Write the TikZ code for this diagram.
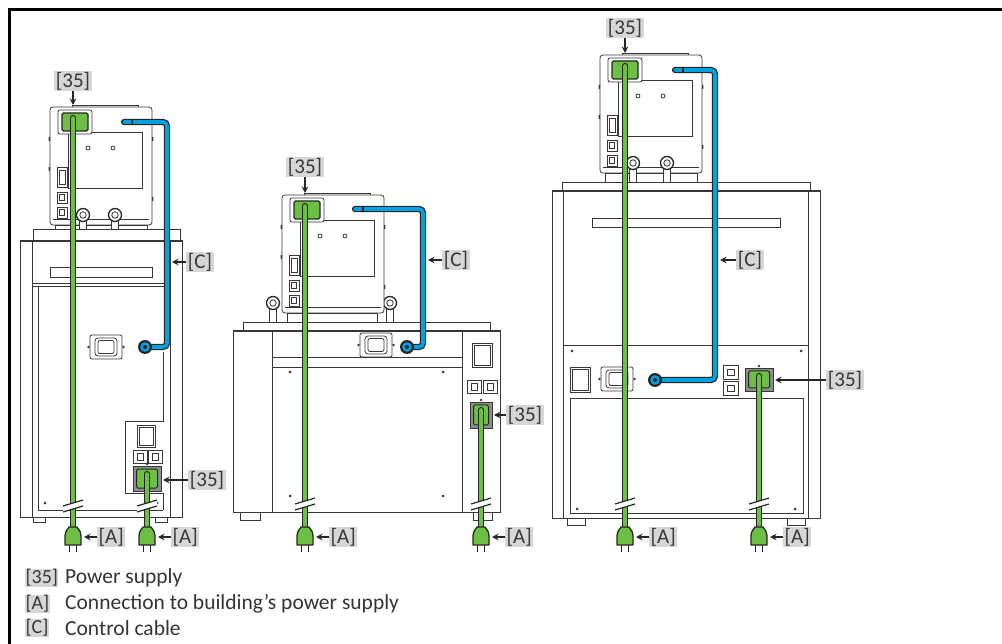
\documentclass[tikz,border=0pt]{standalone}
\usepackage{fontspec}
\setmainfont{Carlito}
\usetikzlibrary{arrows.meta}

\definecolor{leaf}{RGB}{108,190,69}
\definecolor{sky}{RGB}{0,160,226}
\definecolor{ink}{RGB}{55,55,55}

\tikzset{
  outline/.style={draw=ink, line width=0.8pt},
  tag/.style={fill=black!16, text=black!78, inner xsep=1.5pt, inner ysep=0.8pt, font=\fontsize{21}{21}\selectfont},
  keytag/.style={tag, inner xsep=0.3pt, font=\fontsize{20}{20}\selectfont},
  legend/.style={text=black!80, inner sep=0pt, font=\fontsize{21.5}{21.5}\selectfont},
  pointer/.style={-{Stealth[length=6.5pt,width=6.5pt]}, line width=1.2pt, draw=black!85},
  greencable/.style={draw=black!85, line width=1.3pt, double=leaf, double distance=3.6pt, line cap=round},
  bluecable/.style={draw=black!85, line width=1.3pt, double=sky, double distance=3.6pt, line cap=round, rounded corners=4pt},
  pics/headunit/.style={code={
    \draw[outline] (22,0) -- (22,-1.5) -- (88,-1.5) -- (88,0);
    \draw[outline, fill=white, rounded corners=3pt] (0,0) rectangle (102,118);
    \draw[outline] (3,112) -- (99,112);
    \draw[outline] (18,25) rectangle (92,81);
    \draw[outline, fill=white, rounded corners=2pt] (8,3) rectangle (42,27);
    \draw[line width=1.1pt, draw=black!85, fill=leaf, rounded corners=1.5pt] (12,6) rectangle (38,24);
    \draw[outline] (38,41) circle (2) (63,41) circle (2);
    \draw[outline] (7,60) rectangle (17,80) (9,63) rectangle (15,77);
    \draw[outline] (7,85) rectangle (17,96) (7,100) rectangle (17,111);
    \draw[outline] (9.5,87.5) rectangle (14.5,93.5) (9.5,102.5) rectangle (14.5,108.5);
    \fill[ink] (0,30) rectangle (-1.4,34) (0,60) rectangle (-1.4,64) (102,30) rectangle (103.4,34) (102,90) rectangle (103.4,94);
  }},
  pics/nut/.style={code={
    \draw[outline, fill=white] (-3.5,0) rectangle (3.5,#1);
    \draw[line width=1.3pt, draw=black!85, fill=white] (0,0) circle (6.5);
    \draw[outline] (0,0) circle (3.2);
  }},
  pics/inlet/.style={code={
    \fill[ink] (-1.5,12) circle (1.4) (33.5,12) circle (1.4);
    \draw[outline, fill=white, rounded corners=2pt] (0,0) rectangle (32,24);
    \draw[outline, rounded corners=3pt] (5,3) rectangle (27,21);
    \draw[outline, rounded corners=2pt] (8,5.5) rectangle (24,18.5);
  }},
  pics/mains/.style n args={2}{code={
    \fill[ink] (#1/2,-2) circle (1.4);
    \draw[outline, fill=black!45] (0,0) rectangle (#1,#2);
    \draw[line width=1pt, draw=black!85, fill=leaf, rounded corners=1.5pt] (3.5,3) rectangle (#1-3.5,#2-3);
  }},
  pics/plug/.style={code={
    \draw[line width=1.6pt, draw=black!85] (-3.5,17) -- (-3.5,25) (3.5,17) -- (3.5,25);
    \draw[draw=black!85, line width=1.3pt, fill=leaf, line join=round] (-8,18) -- (-8,9)
      .. controls (-8,4) and (-5,2) .. (-4,0) -- (4,0) .. controls (5,2) and (8,4) .. (8,9) -- (8,18) -- cycle;
  }},
  pics/cut/.style={code={
    \fill[white] (-10,1) -- (10,-5) -- (10,1) -- (-10,7) -- cycle;
    \draw[black!85, line width=1.2pt] (-10,1) -- (10,-5) (-10,7) -- (10,1);
  }},
  pics/ring/.style={code={
    \fill[black!85] (0,0) circle (7);
    \fill[sky] (0,0) circle (4.8);
    \fill[black!85] (0,0) circle (2);
  }},
}

\begin{document}
\begin{tikzpicture}[x=1pt, y=-1pt]
  \useasboundingbox (0,0) rectangle (1002,644);
  \draw[line width=3pt] (9.5,644) -- (9.5,9.5) -- (1002,9.5);

  % left unit
  \draw[outline] (20,240) rectangle (182,517);
  \draw[line width=1.5pt, ink] (20,241) -- (182,241);
  \draw[outline] (32,241) -- (32,517) (170,241) -- (170,517);
  \draw[outline] (50,267) rectangle (152,277);
  \draw[outline] (32,283) -- (170,283) (32,286) -- (170,286);
  \draw[outline] (38,286) -- (38,510) -- (163,510) (163,352) -- (163,421) -- (125,421) -- (125,493) -- (163,493) -- (163,510);
  \draw[outline] (33,517) rectangle (45,522) (155,517) rectangle (167,522);
  \fill[ink] (45,503) circle (1.5) (157,503) circle (1.5);
  \draw[outline] (137,425) rectangle (155,447) (139,427) rectangle (153,445);
  \draw[outline] (133,450) rectangle (147,463) (148,450) rectangle (162,463);
  \draw[outline] (137,453) rectangle (143,460) (152,453) rectangle (158,460);
  \pic at (90,335) {inlet};
  \pic at (133,466) {mains={28}{25}};
  \draw[outline, fill=white] (33,229) rectangle (180,240);
  \draw[outline, fill=white] (55,225) rectangle (147,229);
  \pic at (50,107) {headunit};
  \pic at (83,215) {nut=14};
  \pic at (115,215) {nut=14};

  % middle unit
  \draw[outline] (233,330) rectangle (500,512);
  \draw[line width=1.5pt, ink] (233,331) -- (500,331);
  \draw[outline] (272,331) -- (272,512) (462,331) -- (462,512);
  \draw[outline] (272,357) rectangle (462,367);
  \fill[ink] (290,372) circle (1.5) (443,372) circle (1.5) (290,496) circle (1.5) (443,496) circle (1.5);
  \draw[outline] (240,512) rectangle (260,520) (473,512) rectangle (492,520);
  \draw[outline] (472,343) rectangle (492,367) (474,345) rectangle (490,365);
  \draw[outline] (467,380) rectangle (481,393) (483,380) rectangle (497,393);
  \draw[outline] (471,383) rectangle (477,390) (487,383) rectangle (493,390);
  \pic at (360,333) {inlet};
  \pic at (470,402) {mains={22}{26}};
  \draw[outline, fill=white] (243,322) rectangle (490,330);
  \draw[outline, fill=white] (287,313) rectangle (377,322);
  \pic at (273,303) {nut=19};
  \pic at (390,303) {nut=19};
  \pic at (282,195) {headunit};

  % right unit
  \draw[outline] (552,190) rectangle (820,518);
  \draw[line width=1.5pt, ink] (552,191) -- (820,191);
  \draw[outline] (563,191) -- (563,518) (808,191) -- (808,518);
  \draw[outline] (592,218) rectangle (780,227);
  \draw[outline] (563,345) -- (808,345);
  \draw[outline] (570,398) rectangle (803,513);
  \fill[ink] (572,351) circle (1.5) (801,351) circle (1.5) (577,509) circle (1.5) (795,509) circle (1.5);
  \draw[outline] (567,518) rectangle (585,525) (787,518) rectangle (805,525);
  \draw[outline] (570,367) rectangle (590,392) (572,369) rectangle (588,390);
  \draw[outline] (723,365) rectangle (738,379) (723,381) rectangle (738,395);
  \draw[outline] (727,369) rectangle (734,375) (727,385) rectangle (734,391);
  \pic at (601,367) {inlet};
  \pic at (745,368) {mains={28}{23}};
  \draw[outline, fill=white] (562,182) rectangle (810,190);
  \draw[outline, fill=white] (605,173) rectangle (697,182);
  \pic at (600,55) {headunit};
  \pic at (633,163) {nut=19};
  \pic at (667,163) {nut=19};

  % cables
  \draw[bluecable] (145,347) -- (167,347) -- (167,122) -- (124,122);
  \draw[bluecable] (407,347) -- (423,347) -- (423,209) -- (355,209);
  \draw[bluecable] (655,380) -- (715,380) -- (715,70) -- (675,70);
  \foreach \x/\y in {132/122, 363/209, 683/70}
    \draw[black!85, line width=1.1pt] (\x,\y-3.2) -- (\x,\y+3.2);
  \foreach \x/\y in {145/347, 407/347, 655/380}
    \pic at (\x,\y) {ring};
  \draw[greencable] (73,118) -- (73,530);
  \draw[greencable] (147,474) -- (147,530);
  \draw[greencable] (305,206) -- (305,530);
  \draw[greencable] (481,410) -- (481,530);
  \draw[greencable] (625,66) -- (625,530);
  \draw[greencable] (759,376) -- (759,530);
  \foreach \x/\y in {73/505, 147/505, 305/503, 481/503, 625/503, 759/503} {
    \pic at (\x,\y) {cut};
    \pic at (\x,527) {plug};
  }

  % labels
  \node[tag] (p1) at (73,81) {[35]};
  \node[tag] (p2) at (305,167) {[35]};
  \node[tag] (p3) at (625,28) {[35]};
  \coordinate (p1t) at (73,105);
  \coordinate (p2t) at (305,193);
  \coordinate (p3t) at (625,53);
  \node[tag] (s1) at (207,480) {[35]};
  \node[tag] (s2) at (525,415) {[35]};
  \node[tag] (s3) at (845,380) {[35]};
  \coordinate (s1t) at (163,480);
  \coordinate (s2t) at (494,415);
  \coordinate (s3t) at (775,380);
  \node[tag] (c1) at (200,262) {[C]};
  \node[tag] (c2) at (456,260) {[C]};
  \node[tag] (c3) at (750,260) {[C]};
  \coordinate (c1t) at (172,262);
  \coordinate (c2t) at (428,260);
  \coordinate (c3t) at (720,260);
  \foreach \n in {p1,p2,p3,s1,s2,s3,c1,c2,c3}
    \draw[pointer] (\n) -- (\n t);
  \foreach \n/\x in {1/73, 2/147, 3/305, 4/481, 5/625, 6/759} {
    \node[tag, anchor=west] (a\n) at (\x+24,537) {[A]};
    \coordinate (a\n t) at (\x+11,537);
    \draw[pointer] (a\n) -- (a\n t);
  }

  % legend
  \node[keytag, anchor=west] (k35) at (25,578) {[35]};
  \node[keytag, anchor=west] (kA) at (25,604) {[A]};
  \node[keytag, anchor=west] (kC) at (25,628) {[C]};
  \node[legend, anchor=west] (t35) at (65,578) {Power supply};
  \node[legend, anchor=west] (tA) at (65,604) {Connection to building’s power supply};
  \node[legend, anchor=west] (tC) at (65,628) {Control cable};
\end{tikzpicture}
\end{document}
